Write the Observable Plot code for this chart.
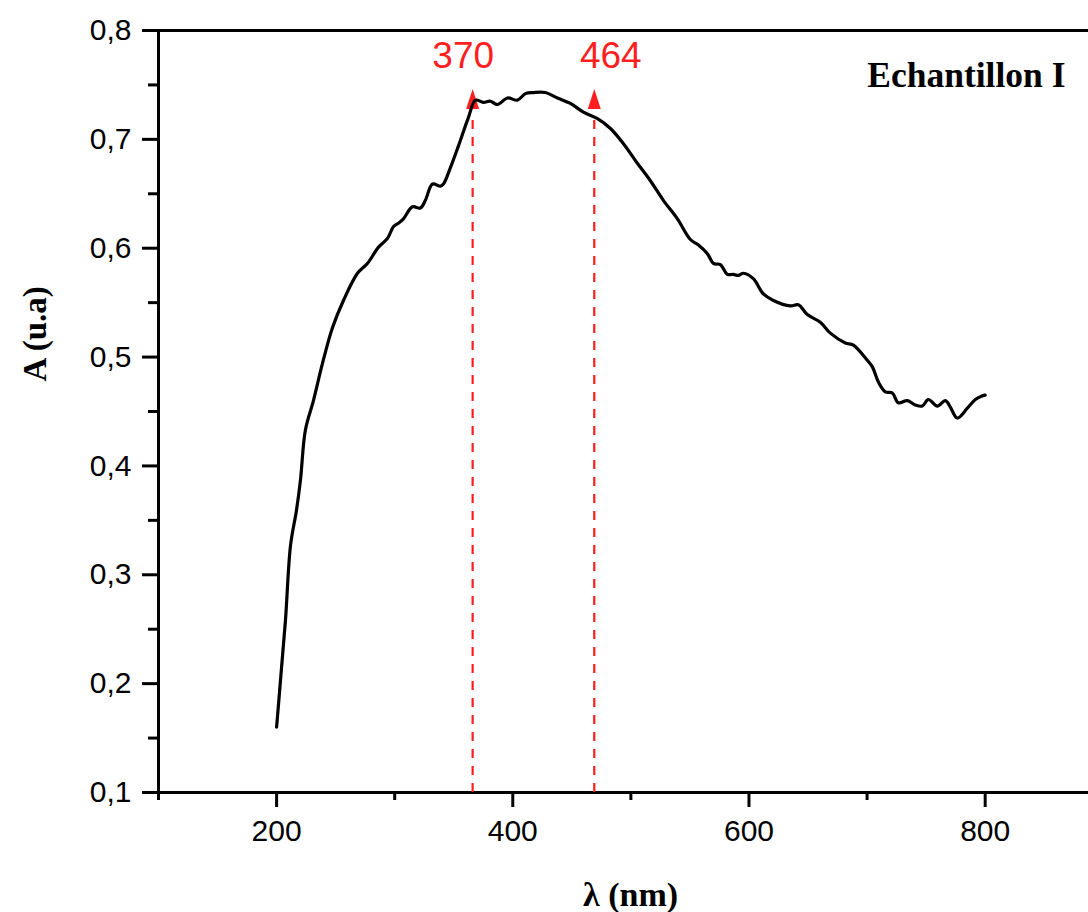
<!DOCTYPE html>
<html>
<head>
<meta charset="utf-8">
<script src="https://cdn.jsdelivr.net/npm/d3@7"></script>
<script src="https://cdn.jsdelivr.net/npm/@observablehq/plot@0.6"></script>
<style>
  html, body { margin: 0; padding: 0; background: #fff; }
  #chart svg { display: block; }
</style>
</head>
<body>
<div id="chart"></div>
<script>
// Spectrum (wavelength nm, absorbance)
const wavelength = [200, 203.3, 207.5, 211.8, 216.8, 220.2, 224.4, 231.2, 238.8, 247.3, 256.6, 268.5, 276.9, 286.3, 293.9, 299.0, 303.2, 307.4, 315.0, 321.8, 326.0, 332.0, 338.7, 341.3, 347.2, 354.0, 362.4, 368.4, 375.1, 381.1, 387.0, 395.5, 403.9, 410.7, 417.5, 427.6, 437.8, 448.8, 459.8, 471.7, 482.7, 493.7, 505.5, 516.5, 527.5, 539.4, 550.4, 557.2, 564.8, 569.9, 575.8, 581.7, 586.8, 591.0, 595.3, 603.7, 612.2, 620.7, 635.0, 641.8, 649.4, 660.4, 668.9, 681.6, 688.4, 700.2, 704.5, 709.6, 715.5, 721.4, 726.5, 734.1, 740.9, 746.8, 751.9, 759.5, 766.3, 770.5, 776.4, 784.9, 791.7, 796.8, 800];
const absorbance = [0.160, 0.203, 0.258, 0.327, 0.359, 0.387, 0.433, 0.460, 0.494, 0.527, 0.552, 0.577, 0.586, 0.601, 0.609, 0.620, 0.623, 0.627, 0.638, 0.637, 0.644, 0.659, 0.657, 0.659, 0.674, 0.694, 0.720, 0.736, 0.734, 0.735, 0.732, 0.738, 0.736, 0.742, 0.743, 0.743, 0.738, 0.733, 0.725, 0.719, 0.710, 0.696, 0.678, 0.662, 0.644, 0.627, 0.608, 0.603, 0.595, 0.586, 0.585, 0.576, 0.576, 0.575, 0.577, 0.572, 0.558, 0.552, 0.547, 0.548, 0.539, 0.532, 0.522, 0.513, 0.511, 0.497, 0.491, 0.477, 0.468, 0.467, 0.458, 0.460, 0.456, 0.455, 0.461, 0.455, 0.460, 0.454, 0.444, 0.453, 0.461, 0.464, 0.465];

// Annotations (red dashed arrows)
const markerX = [366, 469];
const markerLabels = ["370", "464"];
const markerLabelX = [358, 483];
const markerTop = 0.728;

// Axes
const xMajorTicks = [200, 400, 600, 800];
const xMinorTicks = [100, 300, 500, 700];
const yMajorTicks = [0.1, 0.2, 0.3, 0.4, 0.5, 0.6, 0.7, 0.8];
const yMinorTicks = [0.15, 0.25, 0.35, 0.45, 0.55, 0.65, 0.75];
const xTitle = "λ (nm)";
const yTitle = "A (u.a)";
const sampleLabel = "Echantillon I";

const spectrum = wavelength.map((w, i) => ({w, a: absorbance[i]}));
const markers = markerX.map((x, i) => ({x, label: markerLabels[i], lx: markerLabelX[i]}));

const sans = "'Liberation Sans', Arial, sans-serif";
const serif = "'Liberation Serif', 'Times New Roman', serif";
const red = "#ff1f1f";

const arrowHead = {
  draw(ctx) {
    ctx.moveTo(0, -20);
    ctx.lineTo(6.5, 0);
    ctx.lineTo(-6.5, 0);
    ctx.closePath();
  }
};

const chart = Plot.plot({
  width: 1088,
  height: 912,
  marginLeft: 158,
  marginRight: 0,
  marginTop: 30,
  marginBottom: 120,
  style: {fontFamily: sans, color: "#000", background: "#fff", overflow: "visible"},
  x: {domain: [100, 887.5], axis: null},
  y: {domain: [0.1, 0.8], axis: null},
  marks: [
    // frame
    Plot.ruleY([0.8], {strokeWidth: 3, stroke: "#000"}),
    Plot.ruleY([0.1], {strokeWidth: 3, stroke: "#000"}),
    Plot.ruleX([100], {strokeWidth: 3, stroke: "#000"}),
    // y axis
    Plot.axisY(yMajorTicks, {anchor: "left", tickSize: 16, tickPadding: 11, strokeWidth: 3, fontSize: 30, fontFamily: sans, label: null,
      tickFormat: d => d.toFixed(1).replace(".", ",")}),
    Plot.axisY(yMinorTicks, {anchor: "left", tickSize: 10, strokeWidth: 3, label: null, tickFormat: () => ""}),
    // x axis
    Plot.axisX(xMajorTicks, {anchor: "bottom", tickSize: 15, tickPadding: 12, strokeWidth: 3, fontSize: 30, fontFamily: sans, label: null,
      tickFormat: d => String(d)}),
    Plot.axisX(xMinorTicks, {anchor: "bottom", tickSize: 8, strokeWidth: 3, label: null, tickFormat: () => ""}),
    // annotations
    Plot.ruleX(markers, {x: "x", y1: 0.1, y2: markerTop, stroke: red, strokeWidth: 2.2, strokeDasharray: "9,8", insetBottom: -6}),
    Plot.dot(markers, {x: "x", y: markerTop, symbol: arrowHead, fill: red, stroke: "none", r: 5}),
    Plot.text(markers, {x: "lx", text: "label", frameAnchor: "top", dy: 37, lineAnchor: "bottom", fill: red, fontSize: 37, fontFamily: sans}),
    // spectrum
    Plot.line(spectrum, {x: "w", y: "a", stroke: "#000", strokeWidth: 3.2, curve: "catmull-rom"}),
    // titles
    Plot.text([sampleLabel], {frameAnchor: "top-right", dx: -23, dy: 56, lineAnchor: "bottom", textAnchor: "end", fontSize: 35.5, fontWeight: "bold", fontFamily: serif, fill: "#000"}),
    Plot.text([xTitle], {frameAnchor: "bottom", dx: 7, dy: 103, lineAnchor: "middle", fontSize: 34, fontWeight: "bold", fontFamily: serif, fill: "#000"}),
    Plot.text([yTitle], {frameAnchor: "left", dx: -123, dy: -30, rotate: -90, lineAnchor: "middle", fontSize: 33, fontWeight: "bold", fontFamily: serif, fill: "#000"})
  ]
});
document.getElementById("chart").appendChild(chart);
</script>
</body>
</html>
